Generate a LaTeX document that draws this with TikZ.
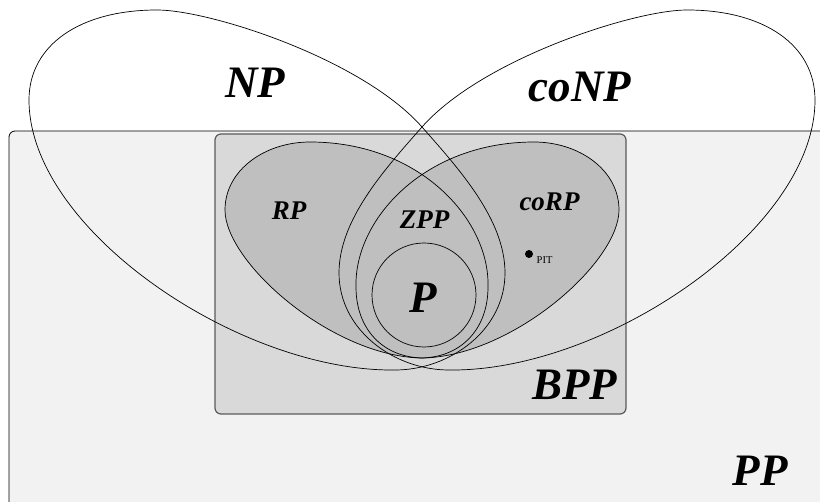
\documentclass[tikz,border=0pt]{standalone}
\usepackage{fontspec}
\setmainfont{Liberation Serif}
\definecolor{ppfill}{HTML}{F2F2F2}
\definecolor{bppfill}{HTML}{D9D9D9}
\definecolor{rpfill}{HTML}{BFBFBF}
\definecolor{bppline}{HTML}{5A5A5A}
\begin{document}
\begin{tikzpicture}[x=1pt,y=-1pt,
  curve/.style={draw=black, line width=0.7pt},
  big/.style={font=\fontsize{45}{50}\selectfont\bfseries\itshape, inner sep=0pt},
  mid/.style={font=\fontsize{27}{30}\selectfont\bfseries\itshape, inner sep=0pt},
  mirror/.style={shift={(844,0)}, xscale=-1}]
\useasboundingbox (0,0) rectangle (820,502);
\clip (0,0) rectangle (820,502);
\fill[white] (0,0) rectangle (820,502);
% PP
\draw[fill=ppfill, line width=0.8pt, rounded corners=6pt] (9,131) rectangle (840,520);
% BPP
\draw[fill=bppfill, draw=bppline, line width=1.2pt, rounded corners=6pt] (215,134) rectangle (626,414);
\def\rppath{(310,142) .. controls (265,142) and (225,170) .. (225,210)
  .. controls (225,262) and (330,355) .. (420,358)
  .. controls (460,358) and (488,330) .. (488,287)
  .. controls (490,220) and (420,142) .. (310,142) -- cycle}
\def\nppath{(157,10) .. controls (80,10) and (29,45) .. (29,100)
  .. controls (29,230) and (240,372) .. (395,370)
  .. controls (450,370) and (505,330) .. (505,273)
  .. controls (505,220) and (460,170) .. (422,127)
  .. controls (362,59) and (210,10) .. (157,10) -- cycle}
% RP / coRP fills
\fill[rpfill] \rppath;
\begin{scope}[mirror]
\fill[rpfill] \rppath;
\end{scope}
% outlines
\draw[curve] \rppath;
\begin{scope}[mirror]
\draw[curve] \rppath;
\end{scope}
\draw[curve] \nppath;
\begin{scope}[mirror]
\draw[curve] \nppath;
\end{scope}
% P
\draw[curve] (424,295) circle[radius=52pt];
% PIT
\fill (529,254) circle[radius=4pt];
% labels
\node[big] (np) at (255.5,82.5) {NP};
\node[big] (conp) at (580,87) {coNP};
\node[mid] (rp) at (289,211) {RP};
\node[mid] (zpp) at (424.5,219.5) {ZPP};
\node[mid] (corp) at (549.5,202) {coRP};
\node[big] (p) at (423,298) {P};
\node[big] (bpp) at (574.5,385) {BPP};
\node[big] (pp) at (760,471) {PP};
\node[anchor=west, font=\fontsize{10.5}{12}\selectfont, inner sep=0pt] (pit) at (536.5,260.5) {PIT};
\end{tikzpicture}
\end{document}
